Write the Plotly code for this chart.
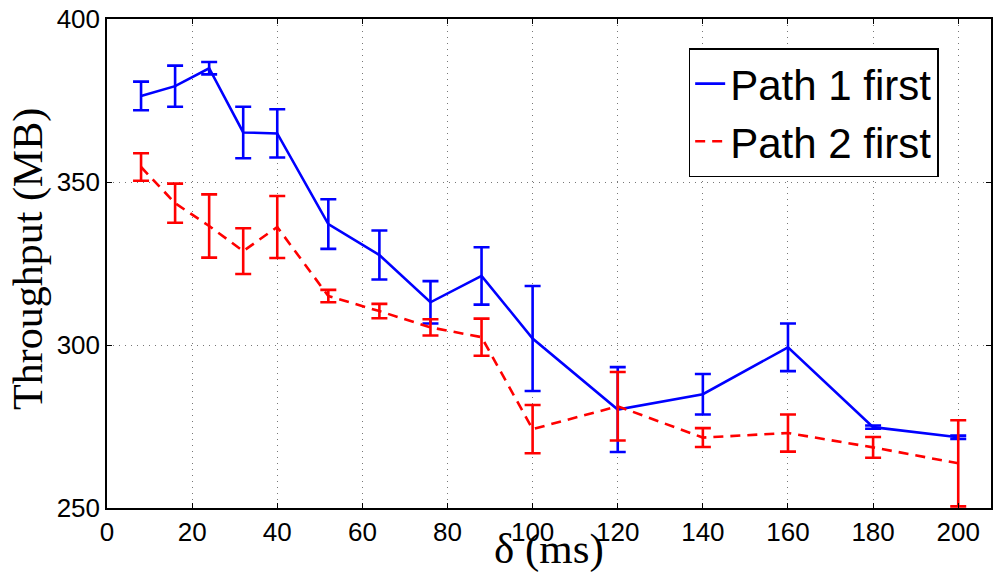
import plotly.graph_objects as go

delta_ms = [8, 16, 24, 32, 40, 52, 64, 76, 88, 100, 120, 140, 160, 180, 200]
path1_mean = [376.4, 379.4, 384.9, 365.2, 364.9, 337.1, 327.6, 313.1, 321.2, 302.0, 280.2, 284.9, 299.3, 274.8, 271.7]
path1_err = [4.4, 6.3, 1.9, 7.9, 7.4, 7.6, 7.5, 6.5, 8.8, 16.1, 13.0, 6.2, 7.3, 0.5, 0.5]
path2_mean = [354.6, 343.5, 336.5, 328.8, 336.2, 315.0, 310.4, 305.4, 302.4, 274.2, 281.2, 271.6, 273.0, 268.6, 263.7]
path2_err = [4.2, 6.0, 9.7, 7.0, 9.5, 1.9, 2.2, 2.5, 5.7, 7.4, 10.5, 2.9, 5.7, 3.2, 13.2]

x_ticks = [0, 20, 40, 60, 80, 100, 120, 140, 160, 180, 200]
y_ticks = [250, 300, 350, 400]

fig = go.Figure()
fig.add_trace(go.Scatter(
    x=delta_ms, y=path1_mean, mode="lines", name="Path 1 first",
    line=dict(color="#0000ff", width=2.6),
    error_y=dict(type="data", array=path1_err, visible=True, color="#0000ff", thickness=2.6, width=8),
))
fig.add_trace(go.Scatter(
    x=delta_ms, y=path2_mean, mode="lines", name="Path 2 first",
    line=dict(color="#ff0000", width=2.6, dash="10px,7px"),
    error_y=dict(type="data", array=path2_err, visible=True, color="#ff0000", thickness=2.6, width=8),
))

axis_common = dict(
    showline=True, linecolor="black", linewidth=1.5, mirror="ticks",
    ticks="inside", ticklen=5, tickcolor="black", tickwidth=1,
    showgrid=True, gridcolor="#777777", gridwidth=1, griddash="1px,5px",
    zeroline=False,
)

fig.update_layout(
    width=995, height=574,
    margin=dict(l=107, r=2, t=19, b=66),
    paper_bgcolor="white", plot_bgcolor="white",
    font=dict(family="Liberation Sans, Arial", size=26, color="black"),
    legend=dict(
        x=0.658, y=0.94, xanchor="left", yanchor="top",
        bgcolor="white", bordercolor="black", borderwidth=1.5,
        font=dict(family="Liberation Sans, Arial", size=42, color="black"),
    ),
    showlegend=True,
    annotations=[
        dict(text="δ (ms)", x=0.5, y=-0.03, xref="paper", yref="paper",
             xanchor="center", yanchor="top", showarrow=False,
             font=dict(family="Liberation Serif, Times New Roman", size=43, color="black")),
        dict(text="Throughput (MB)", x=-0.089, y=0.51, xref="paper", yref="paper",
             xanchor="center", yanchor="middle", showarrow=False, textangle=-90,
             font=dict(family="Liberation Serif, Times New Roman", size=42, color="black")),
    ],
)
fig.update_xaxes(range=[0, 207.7], tickvals=x_ticks, ticktext=[str(v) for v in x_ticks],
                 tickfont=dict(family="Liberation Sans, Arial", size=26, color="black"), **axis_common)
fig.update_yaxes(range=[250, 400], tickvals=y_ticks, ticktext=[str(v) for v in y_ticks],
                 tickfont=dict(family="Liberation Sans, Arial", size=26, color="black"), **axis_common)

fig.write_html("out.html")
